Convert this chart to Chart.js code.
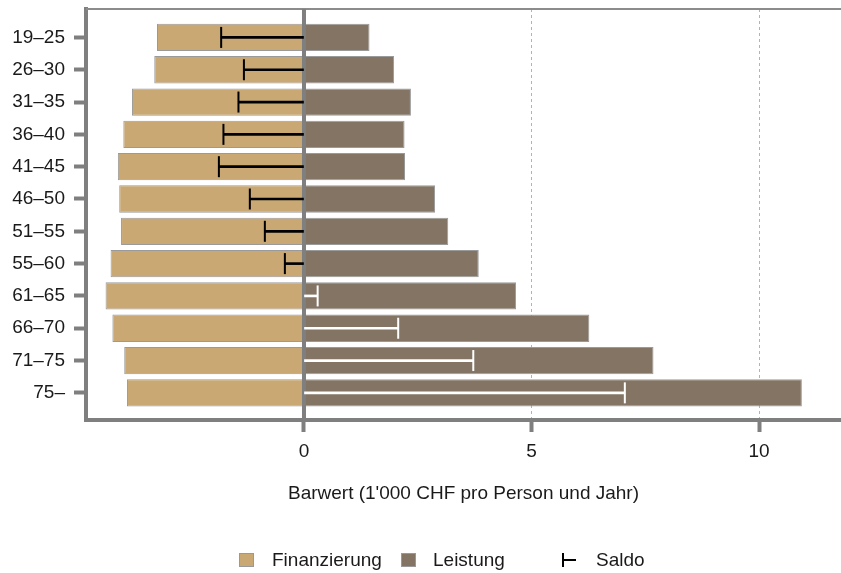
<!DOCTYPE html>
<html>
<head>
<meta charset="utf-8">
<script src="https://cdn.jsdelivr.net/npm/chart.js@4"></script>
<style>
  body { margin: 0; background: #fff; }
  #wrap { position: relative; width: 841px; height: 573px; }
  .leg { position: absolute; top: 549px; height: 22px; line-height: 22px; font: 19px "Liberation Sans", Arial, sans-serif; color: #1a1a1a; white-space: nowrap; }
  .key { position: absolute; top: 553px; width: 15px; height: 14px; box-sizing: border-box; border: 1px solid #999; }
  .saldo-key { position: absolute; top: 553px; left: 562px; width: 13px; height: 14px; border-left: 2px solid #000; box-sizing: border-box; }
  .saldo-key div { position: absolute; top: 6px; left: 0; width: 12px; height: 2px; background: #000; }
</style>
</head>
<body>
<div id="wrap">
  <canvas id="myChart" width="841" height="573"></canvas>
  <div class="key" style="left:239px;background:#C9A874"></div>
  <div class="leg" style="left:272px">Finanzierung</div>
  <div class="key" style="left:401px;background:#837464"></div>
  <div class="leg" style="left:433px">Leistung</div>
  <div class="saldo-key"><div></div></div>
  <div class="leg" style="left:596px">Saldo</div>
</div>
<script>
const ages = ['19–25', '26–30', '31–35', '36–40', '41–45', '46–50', '51–55', '55–60', '61–65', '66–70', '71–75', '75–'];
const finanzierung = [-3.23, -3.29, -3.78, -3.97, -4.09, -4.06, -4.02, -4.25, -4.36, -4.21, -3.95, -3.89];
const leistung = [1.44, 1.98, 2.35, 2.21, 2.22, 2.88, 3.17, 3.84, 4.66, 6.27, 7.68, 10.94];
const saldo = [-1.82, -1.32, -1.44, -1.77, -1.87, -1.19, -0.86, -0.42, 0.30, 2.07, 3.72, 7.05];
const xTicks = [0, 5, 10];

const tan = '#C9A874';
const brown = '#837464';
const axisGrey = '#7f7f7f';
const textColor = '#1a1a1a';
const font = { family: '"Liberation Sans", Arial, sans-serif', size: 19 };

// saldo: black over the tan bars, white over the brown ones
const saldoColors = saldo.map(v => v < 0 ? '#000000' : '#ffffff');

// thick zero line (above bars, below saldo) and thin top frame line
const framePlugin = {
  id: 'frame',
  beforeDatasetDraw(chart, args) {
    if (args.index !== 2) return;
    const { ctx, chartArea, scales } = chart;
    const x0 = scales.x.getPixelForValue(0);
    ctx.save();
    ctx.strokeStyle = axisGrey;
    ctx.lineWidth = 4;
    ctx.beginPath();
    ctx.moveTo(x0, chartArea.top);
    ctx.lineTo(x0, chartArea.bottom);
    ctx.stroke();
    ctx.restore();
  },
  beforeDatasetsDraw(chart) {
    const { ctx, chartArea } = chart;
    ctx.save();
    ctx.strokeStyle = '#8c8c8c';
    ctx.lineWidth = 2;
    ctx.beginPath();
    ctx.moveTo(chartArea.left, chartArea.top);
    ctx.lineTo(chartArea.right, chartArea.top);
    ctx.stroke();
    ctx.restore();
  }
};

const ctx = document.getElementById('myChart').getContext('2d');
const chart = new Chart(ctx, {
  type: 'bar',
  data: {
    datasets: [{
      label: 'Finanzierung',
      data: finanzierung.map((v, i) => ({ x: v, y: i })),
      backgroundColor: tan,
      borderColor: '#9a9a9a',
      borderWidth: 1,
      barPercentage: 0.845,
      categoryPercentage: 1,
      grouped: false,
      order: 2
    }, {
      label: 'Leistung',
      data: leistung.map((v, i) => ({ x: v, y: i })),
      backgroundColor: brown,
      borderColor: '#9a9a9a',
      borderWidth: 1,
      barPercentage: 0.845,
      categoryPercentage: 1,
      grouped: false,
      order: 2
    }, {
      label: 'Saldo',
      data: saldo.map((v, i) => ({ x: [0, v], y: i })),
      backgroundColor: saldoColors,
      borderWidth: 0,
      barThickness: 2,
      grouped: false,
      order: 1
    }, {
      type: 'scatter',
      label: 'Saldo',
      data: saldo.map((v, i) => ({ x: v, y: i })),
      pointStyle: 'line',
      rotation: 90,
      pointRadius: 10.5,
      pointBorderWidth: 2,
      borderColor: saldoColors,
      pointBorderColor: saldoColors,
      showLine: false,
      order: 0
    }]
  },
  options: {
    indexAxis: 'y',
    responsive: false,
    animation: false,
    layout: { autoPadding: false, padding: { top: 9, right: 0, bottom: 58, left: 0 } },
    plugins: {
      legend: { display: false },
      tooltip: { enabled: false }
    },
    scales: {
      x: {
        type: 'linear',
        min: -4.79,
        max: 11.8,
        afterBuildTicks: s => { s.ticks = xTicks.map(v => ({ value: v })); },
        afterFit: s => { s.height = 95; s.paddingLeft = 0; s.paddingRight = 0; },
        ticks: { font: font, color: textColor, padding: 8, callback: v => v },
        grid: {
          color: c => (c.tick && c.tick.value === 0) ? 'rgba(0,0,0,0)' : '#b3b3b3',
          lineWidth: 1,
          tickLength: 12,
          tickWidth: 4,
          tickColor: axisGrey,
          tickBorderDash: []
        },
        border: { display: true, width: 4, color: axisGrey, dash: [3, 3] },
        title: {
          display: true,
          text: "Barwert (1'000 CHF pro Person und Jahr)",
          font: font,
          color: textColor,
          padding: { top: 0, bottom: 10 }
        }
      },
      y: {
        type: 'linear',
        reverse: true,
        offset: false,
        min: -0.88,
        max: 11.84,
        afterBuildTicks: s => { s.ticks = ages.map((a, i) => ({ value: i })); },
        afterFit: s => { s.width = 86; s.paddingTop = 0; s.paddingBottom = 0; },
        ticks: { font: font, color: textColor, padding: 9, autoSkip: false, callback: v => ages[v] },
        grid: { offset: false, drawOnChartArea: false, tickLength: 12, tickWidth: 4, tickColor: axisGrey },
        border: { display: true, width: 4, color: axisGrey }
      }
    }
  },
  plugins: [framePlugin]
});
</script>
</body>
</html>
